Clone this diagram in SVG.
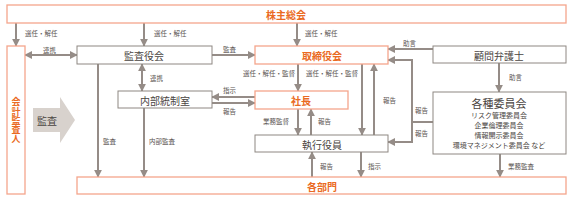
<svg xmlns="http://www.w3.org/2000/svg" width="573" height="200" viewBox="0 0 573 200">
<style>
.ob{fill:#fff;stroke:#f4a58c;stroke-width:1.3}
.gb{fill:#fff;stroke:#8e8782;stroke-width:1}
.ot{fill:#ea6a23;font-family:"Noto Sans CJK JP",sans-serif;font-size:10px;font-weight:bold;text-anchor:middle;dominant-baseline:central}
.vt{fill:#ea6a23;font-family:"Noto Sans CJK JP",sans-serif;font-size:9px;font-weight:bold;text-anchor:middle;writing-mode:vertical-rl;letter-spacing:0.2px}
.gt{fill:#4a4542;font-family:"Noto Sans CJK JP",sans-serif;font-size:10px;text-anchor:middle;dominant-baseline:central}
.st{fill:#4a4542;font-family:"Noto Sans CJK JP",sans-serif;font-size:7px;text-anchor:middle;dominant-baseline:central}
.lb{fill:#5a5451;font-family:"Noto Sans CJK JP",sans-serif;font-size:6.5px;dominant-baseline:central}
.c{fill:none;stroke:#958c87;stroke-width:2}
</style>
<defs>
<marker id="ah" viewBox="0 0 10 10" refX="9" refY="5" markerWidth="8" markerHeight="8" markerUnits="userSpaceOnUse" orient="auto-start-reverse">
<path d="M0 0 L10 5 L0 10 Z" fill="#958c87"/>
</marker>
</defs>
<g id="connectors">
<path class="c" d="M16 23 V46" marker-end="url(#ah)"/>
<path class="c" d="M144 23 V46" marker-end="url(#ah)"/>
<path class="c" d="M297 23 V46" marker-end="url(#ah)"/>
<path class="c" d="M25 55 H77" marker-start="url(#ah)" marker-end="url(#ah)"/>
<path class="c" d="M212 55 H255" marker-end="url(#ah)"/>
<path class="c" d="M142 64 V91" marker-start="url(#ah)" marker-end="url(#ah)"/>
<path class="c" d="M255 97 H212" marker-end="url(#ah)"/>
<path class="c" d="M212 103 H255" marker-end="url(#ah)"/>
<path class="c" d="M298 64 V91" marker-end="url(#ah)"/>
<path class="c" d="M362 64 V135" marker-end="url(#ah)"/>
<path class="c" d="M374 135 V64" marker-end="url(#ah)"/>
<path class="c" d="M298 109 V135" marker-end="url(#ah)"/>
<path class="c" d="M311 135 V109" marker-end="url(#ah)"/>
<path class="c" d="M312 177 V152" marker-end="url(#ah)"/>
<path class="c" d="M361 152 V177" marker-end="url(#ah)"/>
<path class="c" d="M433 49 H388" marker-end="url(#ah)"/>
<path class="c" d="M433 122 H412 V60 H388" marker-end="url(#ah)"/>
<path class="c" d="M412 122 V142 H388" marker-end="url(#ah)"/>
<path class="c" d="M499 63 V92" marker-end="url(#ah)"/>
<path class="c" d="M500 154 V177" marker-end="url(#ah)"/>
<path class="c" d="M98 64 V177" marker-end="url(#ah)"/>
<path class="c" d="M144 108 V177" marker-end="url(#ah)"/>
<text class="lb" x="25" y="33">選任・解任</text>
<text class="lb" x="154" y="33">選任・解任</text>
<text class="lb" x="305" y="33">選任・解任</text>
<text class="lb" x="43" y="50">連携</text>
<text class="lb" x="223" y="49">監査</text>
<text class="lb" x="150" y="78">連携</text>
<text class="lb" x="223" y="90">指示</text>
<text class="lb" x="223" y="111">報告</text>
<text class="lb" x="243" y="73">選任・解任・監督</text>
<text class="lb" x="306" y="73">選任・解任・監督</text>
<text class="lb" x="383" y="100">報告</text>
<text class="lb" x="263" y="121">業務監督</text>
<text class="lb" x="318" y="121">報告</text>
<text class="lb" x="320" y="166">報告</text>
<text class="lb" x="368" y="166">指示</text>
<text class="lb" x="403" y="43">助言</text>
<text class="lb" x="509" y="77">助言</text>
<text class="lb" x="415" y="110">報告</text>
<text class="lb" x="415" y="133">報告</text>
<text class="lb" x="508" y="166">業務監査</text>
<text class="lb" x="103" y="141">監査</text>
<text class="lb" x="149" y="141">内部監査</text>
</g>
<g id="kabunushi"><rect class="ob" x="7" y="5" width="559" height="18"/><text class="ot" x="286" y="14">株主総会</text></g>
<g id="kaikei"><rect class="ob" x="7" y="46" width="18" height="148"/>
<text class="vt" x="16" y="120.5">会計監査人</text></g>
<g id="kansa-arrow"><path d="M33 108 H60 V97 L75 120 L60 143 V132 H33 Z" fill="#d8d2cd"/><text class="gt" x="47" y="120">監査</text></g>
<g id="kansayakukai"><rect class="gb" x="77" y="46" width="135" height="18"/><text class="gt" x="144" y="55">監査役会</text></g>
<g id="torishimariyakukai"><rect class="ob" x="255" y="46" width="133" height="18"/><text class="ot" x="322" y="55">取締役会</text></g>
<g id="komon"><rect class="gb" x="433" y="46" width="133" height="17"/><text class="gt" x="499" y="55">顧問弁護士</text></g>
<g id="naibu"><rect class="gb" x="118" y="91" width="94" height="17"/><text class="gt" x="165" y="100">内部統制室</text></g>
<g id="shacho"><rect class="ob" x="255" y="91" width="93" height="18"/><text class="ot" x="301" y="100">社長</text></g>
<g id="shikkou"><rect class="gb" x="255" y="135" width="133" height="17"/><text class="gt" x="322" y="144">執行役員</text></g>
<g id="iinkai"><rect class="gb" x="433" y="92" width="133" height="62"/>
<text class="gt" x="499" y="103" style="font-size:11px">各種委員会</text>
<text class="st" x="499" y="115">リスク管理委員会</text>
<text class="st" x="499" y="125">企業倫理委員会</text>
<text class="st" x="499" y="135">情報開示委員会</text>
<text class="st" x="499" y="145">環境マネジメント委員会 など</text></g>
<g id="kakubumon"><rect class="ob" x="77" y="177" width="489" height="17"/><text class="ot" x="322" y="186">各部門</text></g>
</svg>
